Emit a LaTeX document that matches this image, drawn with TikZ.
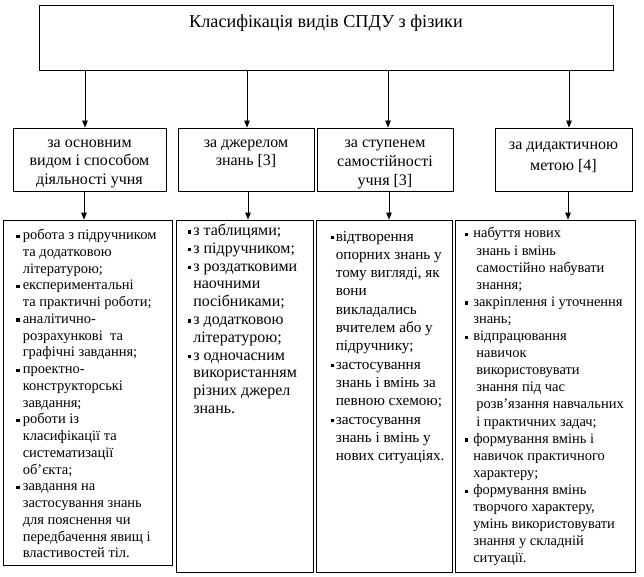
\documentclass[tikz,border=0pt]{standalone}
\usepackage{fontspec}
\setmainfont{Liberation Serif}
\usetikzlibrary{arrows.meta}
\newcommand\blt{\raisebox{0.25ex}{\rule{3.3pt}{3.3pt}}}
\tikzset{
  bx/.style={draw=black, line width=0.8pt, inner sep=0pt, fill=white},
  arr/.style={draw=black, line width=0.8pt, -{Triangle[length=7pt,width=5.5pt]}},
}
\begin{document}
\begin{tikzpicture}[x=1pt,y=-1pt]
\useasboundingbox[fill=white] (0,0) rectangle (644,577);
% title
\node[bx] (title) at (326,37.5) {\parbox[c][65pt][t]{574pt}{\centering\fontsize{18.2}{21.6}\selectfont\vspace*{7.4pt}\strut Класифікація видів СПДУ з фізики}};
% headers
\node[bx] (h1) at (89.5,159.5) {\parbox[c][63pt][t]{153pt}{\centering\fontsize{16}{18.5}\selectfont\vspace*{6.5pt}\strut за основним\\видом і способом\\діяльності учня}};
\node[bx] (h2) at (246,159.5) {\parbox[c][63pt][t]{136pt}{\centering\fontsize{16}{18.5}\selectfont\vspace*{6.5pt}\strut за джерелом\\знань [3]}};
\node[bx] (h3) at (385,159.5) {\parbox[c][63pt][t]{136pt}{\centering\fontsize{16}{18.8}\selectfont\vspace*{6.5pt}\strut за ступенем\\самостійності\\учня [3]}};
\node[bx] (h4) at (563.5,159.5) {\parbox[c][63pt][t]{137pt}{\centering\fontsize{16}{21.5}\selectfont\vspace*{6pt}\strut за дидактичною\\метою [4]}};
% lower boxes
\node[bx] (l1) at (87.5,392.5) {\parbox[c][345pt][t]{169pt}{\fontsize{14.5}{16.75}\selectfont\vspace*{7.8pt}\hspace*{13.5pt}\begin{tabular}[t]{@{}l@{\hspace{3pt}}l@{}}
\blt & робота з підручником\\
 & та додатковою\\
 & літературою;\\
\blt & експериментальні\\
 & та практичні роботи;\\
\blt & аналітично-\\
 & розрахункові\ \ та\\
 & графічні завдання;\\
\blt & проектно-\\
 & конструкторські\\
 & завдання;\\
\blt & роботи із\\
 & класифікації та\\
 & систематизації\\
 & об’єкта;\\
\blt & завдання на\\
 & застосування знань\\
 & для пояснення чи\\
 & передбачення явищ і\\
 & властивостей тіл.
\end{tabular}}};
\node[bx] (l2) at (244.5,396) {\parbox[c][352pt][t]{137pt}{\fontsize{16}{17.8}\selectfont\vspace*{3pt}\hspace*{12pt}\begin{tabular}[t]{@{}l@{\hspace{2pt}}l@{}}
\blt & з таблицями;\\
\blt & з підручником;\\
\blt & з роздатковими\\
 & наочними\\
 & посібниками;\\
\blt & з додатковою\\
 & літературою;\\
\blt & з одночасним\\
 & використанням\\
 & різних джерел\\
 & знань.
\end{tabular}}};
\node[bx] (l3) at (384,396) {\parbox[c][352pt][t]{136pt}{\fontsize{15.2}{18.3}\selectfont\vspace*{8.2pt}\hspace*{15pt}\begin{tabular}[t]{@{}l@{\hspace{1.5pt}}l@{}}
\blt & відтворення\\
 & опорних знань у\\
 & тому вигляді, як\\
 & вони\\
 & викладались\\
 & вчителем або у\\
 & підручнику;\\
\blt & застосування\\
 & знань і вмінь за\\
 & певною схемою;\\
\blt & застосування\\
 & знань і вмінь у\\
 & нових ситуаціях.
\end{tabular}}};
\node[bx] (l4) at (545,396) {\parbox[c][352pt][t]{180pt}{\fontsize{14.5}{17.1}\selectfont\vspace*{6pt}\hspace*{10pt}\begin{tabular}[t]{@{}l@{\hspace{5pt}}l@{}}
\blt & набуття нових\\
 & \hspace*{3pt}знань і вмінь\\
 & \hspace*{3pt}самостійно набувати\\
 & \hspace*{3pt}знання;\\
\blt & закріплення і уточнення\\
 & знань;\\
\blt & відпрацювання\\
 & \hspace*{3pt}навичок\\
 & \hspace*{3pt}використовувати\\
 & \hspace*{3pt}знання під час\\
 & \hspace*{3pt}розв’язання навчальних\\
 & \hspace*{3pt}і практичних задач;\\
\blt & формування вмінь і\\
 & навичок практичного\\
 & характеру;\\
\blt & формування вмінь\\
 & творчого характеру,\\
 & умінь використовувати\\
 & знання у складній\\
 & ситуації.
\end{tabular}}};
% arrow columns
\coordinate (c1) at (85,0);
\coordinate (c2) at (247,0);
\coordinate (c3) at (388,0);
\coordinate (c4) at (569,0);
\coordinate (d1) at (84,0);
\coordinate (d2) at (248,0);
\coordinate (d3) at (389,0);
\coordinate (d4) at (568,0);
\draw[arr] (title.south -| c1) -- (h1.north -| c1);
\draw[arr] (title.south -| c2) -- (h2.north -| c2);
\draw[arr] (title.south -| c3) -- (h3.north -| c3);
\draw[arr] (title.south -| c4) -- (h4.north -| c4);
\draw[arr] (h1.south -| d1) -- (l1.north -| d1);
\draw[arr] (h2.south -| d2) -- (l2.north -| d2);
\draw[arr] (h3.south -| d3) -- (l3.north -| d3);
\draw[arr] (h4.south -| d4) -- (l4.north -| d4);
\end{tikzpicture}
\end{document}
